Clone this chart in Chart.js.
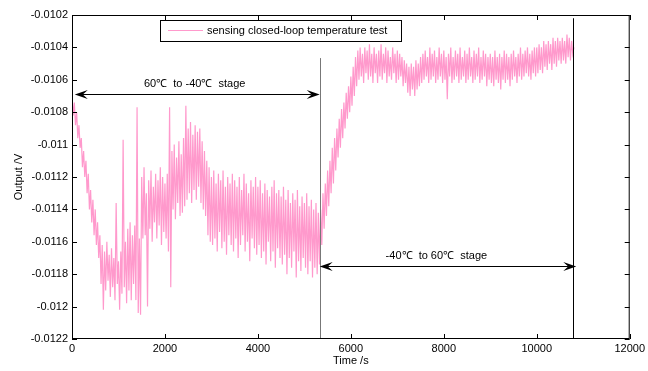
<!DOCTYPE html>
<html lang="en">
<head>
  <meta charset="UTF-8">
  <title>sensing closed-loop temperature test</title>
  <script src="https://cdn.jsdelivr.net/npm/chart.js"></script>
  <style>
    html, body { margin: 0; padding: 0; background: #fff; }
    #wrap { width: 648px; height: 371px; }
  </style>
</head>
<body>
  <div id="wrap"><canvas id="chart"></canvas></div>
  <script>
    // sampling interval of the recorded output (s)
    const sampleStep = 25;

    // output voltage in mV, one value every sampleStep seconds, from t = 0 to 10800 s
    const outputMilliVolts = [
      -10.70, -10.82, -10.74, -10.88, -10.80, -10.96, -10.88, -11.02, -10.96, -11.14, -11.04, -11.20, -11.10, -11.30, -11.18, -11.40, -11.28, -11.48, -11.34, -11.56,
      -11.40, -11.62, -11.48, -11.70, -11.56, -11.86, -11.62, -12.02, -11.66, -11.90, -11.60, -11.84, -11.68, -11.94, -11.64, -11.88, -11.70, -11.96, -11.36, -11.86,
      -11.72, -12.02, -11.66, -11.92, -10.97, -11.88, -11.60, -11.98, -11.52, -11.90, -11.48, -11.96, -11.56, -11.86, -11.50, -11.96, -10.77, -12.04, -11.58, -12.05,
      -11.20, -11.58, -11.14, -11.56, -11.30, -12.00, -11.22, -11.52, -11.16, -11.60, -11.26, -11.48, -11.18, -11.58, -11.22, -11.50, -11.14, -11.62, -11.20, -11.54,
      -11.24, -11.58, -11.18, -11.66, -10.77, -11.88, -11.04, -11.40, -11.00, -11.46, -11.08, -11.36, -10.98, -11.44, -11.06, -11.42, -10.96, -11.38, -10.76, -11.34,
      -10.90, -11.30, -10.86, -11.36, -10.94, -11.28, -10.88, -11.34, -10.92, -11.26, -10.90, -11.36, -10.98, -11.40, -11.04, -11.44, -11.10, -11.56, -11.14, -11.60,
      -11.20, -11.62, -11.16, -11.58, -11.24, -11.66, -11.18, -11.54, -11.22, -11.64, -11.16, -11.60, -11.26, -11.68, -11.20, -11.56, -11.24, -11.62, -11.18, -11.66,
      -11.22, -11.58, -11.26, -11.70, -11.20, -11.62, -11.28, -11.56, -11.18, -11.66, -11.24, -11.60, -11.30, -11.72, -11.22, -11.58, -11.26, -11.64, -11.20, -11.68,
      -11.26, -11.62, -11.22, -11.70, -11.30, -11.66, -11.24, -11.74, -11.28, -11.60, -11.32, -11.72, -11.26, -11.66, -11.22, -11.76, -11.30, -11.64, -11.28, -11.70,
      -11.32, -11.74, -11.26, -11.68, -11.34, -11.80, -11.28, -11.70, -11.36, -11.76, -11.30, -11.66, -11.34, -11.82, -11.28, -11.72, -11.38, -11.78, -11.32, -11.70,
      -11.36, -11.76, -11.30, -11.80, -11.38, -11.72, -11.34, -11.82, -11.40, -11.76, -11.36, -11.80, -11.42, -11.74, -11.40, -11.62, -11.30, -11.52, -11.24, -11.44,
      -11.16, -11.38, -11.10, -11.30, -11.02, -11.24, -10.96, -11.16, -10.90, -11.08, -10.84, -11.02, -10.78, -10.96, -10.74, -10.90, -10.68, -10.84, -10.64, -10.80,
      -10.58, -10.76, -10.52, -10.70, -10.46, -10.64, -10.42, -10.60, -10.40, -10.58, -10.44, -10.62, -10.40, -10.56, -10.42, -10.60, -10.38, -10.58, -10.44, -10.62,
      -10.40, -10.56, -10.44, -10.62, -10.42, -10.58, -10.38, -10.60, -10.44, -10.56, -10.40, -10.62, -10.42, -10.58, -10.46, -10.60, -10.40, -10.56, -10.44, -10.62,
      -10.42, -10.60, -10.44, -10.58, -10.46, -10.64, -10.48, -10.62, -10.50, -10.68, -10.52, -10.70, -10.50, -10.66, -10.52, -10.70, -10.48, -10.66, -10.50, -10.64,
      -10.46, -10.62, -10.44, -10.60, -10.42, -10.58, -10.46, -10.62, -10.40, -10.60, -10.44, -10.58, -10.42, -10.62, -10.46, -10.60, -10.40, -10.58, -10.44, -10.62,
      -10.42, -10.60, -10.46, -10.72, -10.44, -10.58, -10.40, -10.62, -10.46, -10.60, -10.42, -10.58, -10.44, -10.62, -10.40, -10.60, -10.46, -10.58, -10.42, -10.62,
      -10.44, -10.60, -10.40, -10.58, -10.46, -10.62, -10.42, -10.60, -10.44, -10.58, -10.40, -10.62, -10.46, -10.60, -10.42, -10.58, -10.44, -10.64, -10.46, -10.60,
      -10.44, -10.62, -10.46, -10.64, -10.42, -10.60, -10.46, -10.62, -10.44, -10.66, -10.46, -10.60, -10.42, -10.62, -10.44, -10.60, -10.46, -10.64, -10.44, -10.60,
      -10.42, -10.58, -10.46, -10.62, -10.44, -10.58, -10.40, -10.60, -10.44, -10.58, -10.42, -10.56, -10.40, -10.58, -10.44, -10.60, -10.42, -10.56, -10.40, -10.58,
      -10.40, -10.56, -10.38, -10.54, -10.40, -10.56, -10.36, -10.52, -10.38, -10.54, -10.36, -10.50, -10.38, -10.54, -10.34, -10.50, -10.36, -10.52, -10.34, -10.48,
      -10.36, -10.50, -10.34, -10.48, -10.36, -10.50, -10.32, -10.46, -10.34, -10.48, -10.36, -10.44, -10.40
    ];

    const xTicks = [0, 2000, 4000, 6000, 8000, 10000, 12000];
    const yTicks = [-0.0122, -0.012, -0.0118, -0.0116, -0.0114, -0.0112, -0.011,
                    -0.0108, -0.0106, -0.0104, -0.0102];

    // stage boundaries (s) and annotation levels (V)
    const stageSwitch = 5330;
    const stageEnd = 10790;
    const stageLines = [
      { t: stageSwitch, top: -0.010466, color: '#777777' },
      { t: stageEnd, top: -0.01022, color: '#000000' }
    ];
    const stageArrows = [
      { from: 60, to: stageSwitch, v: -0.010689, text: '60\u2103  to -40\u2103  stage', tx: 2640, tv: -0.010627 },
      { from: stageSwitch, to: 10850, v: -0.011748, text: '-40\u2103  to 60\u2103  stage', tx: 7840, tv: -0.011686 }
    ];

    const lineColor = '#ff99cc';
    const font = '11px "Liberation Sans", Arial, sans-serif';

    const points = outputMilliVolts.map((mv, i) => ({ x: i * sampleStep, y: mv / 1000 }));

    const arrowHead = (ctx, x, y, dir) => {
      ctx.beginPath();
      ctx.moveTo(x, y);
      ctx.lineTo(x - dir * 13, y - 4.5);
      ctx.lineTo(x - dir * 8, y);
      ctx.lineTo(x - dir * 13, y + 4.5);
      ctx.closePath();
      ctx.fill();
    };

    const matlabFrame = {
      id: 'matlabFrame',
      afterDatasetsDraw(chart) {
        const { ctx, chartArea: a, scales: { x, y } } = chart;
        ctx.save();

        // stage boundary lines
        stageLines.forEach(l => {
          const px = Math.round(x.getPixelForValue(l.t)) + 0.5;
          ctx.strokeStyle = l.color;
          ctx.lineWidth = 1;
          ctx.beginPath();
          ctx.moveTo(px, y.getPixelForValue(l.top));
          ctx.lineTo(px, a.bottom);
          ctx.stroke();
        });

        // double arrows with stage text
        ctx.fillStyle = '#000';
        ctx.strokeStyle = '#000';
        ctx.font = font;
        ctx.textAlign = 'center';
        ctx.textBaseline = 'middle';
        stageArrows.forEach(s => {
          const x1 = x.getPixelForValue(s.from);
          const x2 = x.getPixelForValue(s.to);
          const py = Math.round(y.getPixelForValue(s.v)) + 0.5;
          ctx.beginPath();
          ctx.moveTo(x1 + 8, py);
          ctx.lineTo(x2 - 8, py);
          ctx.stroke();
          arrowHead(ctx, x1, py, -1);
          arrowHead(ctx, x2, py, 1);
          ctx.fillText(s.text, x.getPixelForValue(s.tx), y.getPixelForValue(s.tv));
        });

        // box and inward ticks
        ctx.strokeStyle = '#000';
        ctx.lineWidth = 1;
        ctx.strokeRect(a.left + 0.5, a.top + 0.5, a.right - a.left - 1, a.bottom - a.top - 1);
        ctx.beginPath();
        xTicks.forEach(v => {
          const px = Math.round(x.getPixelForValue(v)) + 0.5;
          ctx.moveTo(px, a.bottom); ctx.lineTo(px, a.bottom - 5);
          ctx.moveTo(px, a.top); ctx.lineTo(px, a.top + 5);
        });
        yTicks.forEach(v => {
          const py = Math.round(y.getPixelForValue(v)) + 0.5;
          ctx.moveTo(a.left, py); ctx.lineTo(a.left + 5, py);
          ctx.moveTo(a.right, py); ctx.lineTo(a.right - 5, py);
        });
        ctx.stroke();

        // legend box
        const lx = 160, ly = 20, lw = 241, lh = 21;
        ctx.fillStyle = '#fff';
        ctx.fillRect(lx, ly, lw, lh);
        ctx.strokeRect(lx + 0.5, ly + 0.5, lw, lh);
        ctx.strokeStyle = lineColor;
        ctx.beginPath();
        ctx.moveTo(lx + 8, ly + 10.5);
        ctx.lineTo(lx + 43, ly + 10.5);
        ctx.stroke();
        ctx.fillStyle = '#000';
        ctx.textAlign = 'left';
        ctx.fillText(chart.data.datasets[0].label, lx + 47, ly + 11);

        ctx.restore();
      }
    };

    new Chart(document.getElementById('chart').getContext('2d'), {
      type: 'line',
      data: {
        datasets: [{
          label: 'sensing closed-loop temperature test',
          data: points,
          borderColor: lineColor,
          borderWidth: 1.2,
          pointRadius: 0,
          tension: 0
        }]
      },
      options: {
        responsive: true,
        maintainAspectRatio: false,
        animation: false,
        parsing: false,
        layout: { padding: { top: 15, right: 9, left: 0, bottom: 0 } },
        plugins: { legend: { display: false }, tooltip: { enabled: false } },
        scales: {
          x: {
            type: 'linear',
            min: 0, max: 12000,
            afterBuildTicks: s => { s.ticks = xTicks.map(v => ({ value: v })); },
            afterFit: s => { s.height = 32; },
            grid: { display: false, drawTicks: false },
            border: { display: false },
            ticks: { padding: 3, color: '#000', font: { family: '"Liberation Sans", Arial', size: 11 }, maxRotation: 0, callback: v => String(v) },
            title: { display: true, text: 'Time /s', color: '#000', padding: { bottom: 3 }, font: { family: '"Liberation Sans", Arial', size: 11 } }
          },
          y: {
            min: -0.0122, max: -0.0102,
            afterBuildTicks: s => { s.ticks = yTicks.map(v => ({ value: v })); },
            afterFit: s => { s.width = 72; },
            grid: { display: false, drawTicks: false },
            border: { display: false },
            ticks: { padding: 4, color: '#000', font: { family: '"Liberation Sans", Arial', size: 11 }, callback: v => String(v) },
            title: { display: true, text: 'Output /V', color: '#000', padding: { top: 12 }, font: { family: '"Liberation Sans", Arial', size: 11 } }
          }
        }
      },
      plugins: [matlabFrame]
    });
  </script>
</body>
</html>
